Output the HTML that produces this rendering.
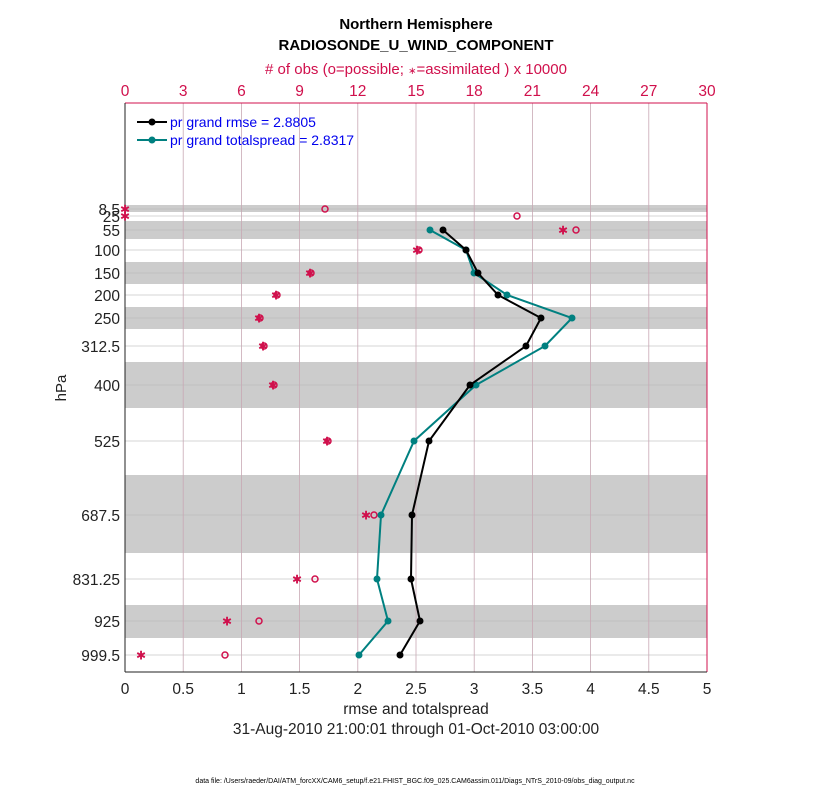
<!DOCTYPE html>
<html><head><meta charset="utf-8"><style>
body{margin:0;background:#fff;}
svg{display:block;font-family:"Liberation Sans",sans-serif;}
</style></head><body>
<svg width="830" height="800" xmlns="http://www.w3.org/2000/svg">
<rect width="830" height="800" fill="#fff"/>
<g fill="#cccccc">
<rect x="125" y="205" width="582" height="7"/>
<rect x="125" y="221" width="582" height="18"/>
<rect x="125" y="262" width="582" height="22"/>
<rect x="125" y="307" width="582" height="22"/>
<rect x="125" y="362" width="582" height="46"/>
<rect x="125" y="475" width="582" height="78"/>
<rect x="125" y="605" width="582" height="33"/>
</g>
<g stroke="#b8b8b8" stroke-width="0.8" opacity="0.8">
<line x1="125" x2="707" y1="209" y2="209"/><line x1="125" x2="707" y1="216" y2="216"/>
<line x1="125" x2="707" y1="230" y2="230"/><line x1="125" x2="707" y1="250" y2="250"/>
<line x1="125" x2="707" y1="273" y2="273"/><line x1="125" x2="707" y1="295" y2="295"/>
<line x1="125" x2="707" y1="318" y2="318"/><line x1="125" x2="707" y1="346" y2="346"/>
<line x1="125" x2="707" y1="385" y2="385"/><line x1="125" x2="707" y1="441" y2="441"/>
<line x1="125" x2="707" y1="515" y2="515"/><line x1="125" x2="707" y1="579" y2="579"/>
<line x1="125" x2="707" y1="621" y2="621"/><line x1="125" x2="707" y1="655" y2="655"/>
</g>
<g stroke="#c8a8b4" stroke-width="0.8">
<line x1="183.2" x2="183.2" y1="103" y2="672"/><line x1="241.4" x2="241.4" y1="103" y2="672"/>
<line x1="299.6" x2="299.6" y1="103" y2="672"/><line x1="357.8" x2="357.8" y1="103" y2="672"/>
<line x1="416" x2="416" y1="103" y2="672"/><line x1="474.2" x2="474.2" y1="103" y2="672"/>
<line x1="532.4" x2="532.4" y1="103" y2="672"/><line x1="590.6" x2="590.6" y1="103" y2="672"/>
<line x1="648.8" x2="648.8" y1="103" y2="672"/>
</g>
<line x1="125" x2="707" y1="103" y2="103" stroke="#d0104c" stroke-width="1"/>
<line x1="707" x2="707" y1="103" y2="672" stroke="#d0104c" stroke-width="1"/>
<line x1="125" x2="707" y1="672" y2="672" stroke="#222" stroke-width="1"/>
<line x1="125" x2="125" y1="103" y2="672" stroke="#222" stroke-width="1"/>
<g fill="#d0104c" font-size="15.5" text-anchor="middle">
<text x="125" y="96">0</text><text x="183.2" y="96">3</text><text x="241.4" y="96">6</text>
<text x="299.6" y="96">9</text><text x="357.8" y="96">12</text><text x="416" y="96">15</text>
<text x="474.2" y="96">18</text><text x="532.4" y="96">21</text><text x="590.6" y="96">24</text>
<text x="648.8" y="96">27</text><text x="707" y="96">30</text>
<text x="416" y="74" font-size="15"># of obs (o=possible; <tspan font-size="10">∗</tspan>=assimilated ) x 10000</text>
</g>
<g font-size="15" font-weight="bold" text-anchor="middle" fill="#000">
<text x="416" y="29">Northern Hemisphere</text>
<text x="416" y="50">RADIOSONDE_U_WIND_COMPONENT</text>
</g>
<g fill="#222" font-size="15.5" text-anchor="middle">
<text x="125" y="694">0</text><text x="183.2" y="694">0.5</text><text x="241.4" y="694">1</text>
<text x="299.6" y="694">1.5</text><text x="357.8" y="694">2</text><text x="416" y="694">2.5</text>
<text x="474.2" y="694">3</text><text x="532.4" y="694">3.5</text><text x="590.6" y="694">4</text>
<text x="648.8" y="694">4.5</text><text x="707" y="694">5</text>
<text x="416" y="714">rmse and totalspread</text>
<text x="416" y="734">31-Aug-2010 21:00:01 through 01-Oct-2010 03:00:00</text>
</g>
<g fill="#222" font-size="15.5" text-anchor="end">
<text x="120" y="215">8.5</text><text x="120" y="222">25</text><text x="120" y="236">55</text>
<text x="120" y="256">100</text><text x="120" y="279">150</text><text x="120" y="301">200</text>
<text x="120" y="324">250</text><text x="120" y="352">312.5</text><text x="120" y="391">400</text>
<text x="120" y="447">525</text><text x="120" y="521">687.5</text><text x="120" y="585">831.25</text>
<text x="120" y="627">925</text><text x="120" y="661">999.5</text>
</g>
<text x="66" y="388" font-size="15" fill="#222" text-anchor="middle" transform="rotate(-90 66 388)">hPa</text>
<text x="415" y="783" font-size="7" fill="#000" text-anchor="middle">data file: /Users/raeder/DAI/ATM_forcXX/CAM6_setup/f.e21.FHIST_BGC.f09_025.CAM6assim.011/Diags_NTrS_2010-09/obs_diag_output.nc</text>
<g fill="none" stroke="#d0104c" stroke-width="1.5">
<circle cx="325" cy="209" r="3"/><circle cx="517" cy="216" r="3"/><circle cx="576" cy="230" r="3"/>
<circle cx="419" cy="250" r="3"/><circle cx="311" cy="273" r="3"/><circle cx="277" cy="295" r="3"/>
<circle cx="260" cy="318" r="3"/><circle cx="264" cy="346" r="3"/><circle cx="274" cy="385" r="3"/>
<circle cx="328" cy="441" r="3"/><circle cx="374" cy="515" r="3"/><circle cx="315" cy="579" r="3"/>
<circle cx="259" cy="621" r="3"/><circle cx="225" cy="655" r="3"/>
</g>
<g fill="#d0104c" font-size="12" text-anchor="middle">
<text x="125" y="213.5">✱</text><text x="125" y="220.5">✱</text><text x="563" y="234.5">✱</text>
<text x="417" y="254.5">✱</text><text x="310" y="277.5">✱</text><text x="276" y="299.5">✱</text>
<text x="259" y="322.5">✱</text><text x="263" y="350.5">✱</text><text x="273" y="389.5">✱</text>
<text x="327" y="445.5">✱</text><text x="366" y="519.5">✱</text><text x="297" y="583.5">✱</text>
<text x="227" y="625.5">✱</text><text x="141" y="659.5">✱</text>
</g>
<polyline fill="none" stroke="#008080" stroke-width="2" points="430,230 466,250 474,273 507,295 572,318 545,346 476,385 414,441 381,515 377,579 388,621 359,655"/>
<g fill="#008080">
<circle cx="430" cy="230" r="3.5"/><circle cx="466" cy="250" r="3.5"/><circle cx="474" cy="273" r="3.5"/><circle cx="507" cy="295" r="3.5"/><circle cx="572" cy="318" r="3.5"/><circle cx="545" cy="346" r="3.5"/><circle cx="476" cy="385" r="3.5"/><circle cx="414" cy="441" r="3.5"/><circle cx="381" cy="515" r="3.5"/><circle cx="377" cy="579" r="3.5"/><circle cx="388" cy="621" r="3.5"/><circle cx="359" cy="655" r="3.5"/>
</g>
<polyline fill="none" stroke="#000" stroke-width="2" points="443,230 466,250 478,273 498,295 541,318 526,346 470,385 429,441 412,515 411,579 420,621 400,655"/>
<g fill="#000">
<circle cx="443" cy="230" r="3.5"/><circle cx="466" cy="250" r="3.5"/><circle cx="478" cy="273" r="3.5"/><circle cx="498" cy="295" r="3.5"/><circle cx="541" cy="318" r="3.5"/><circle cx="526" cy="346" r="3.5"/><circle cx="470" cy="385" r="3.5"/><circle cx="429" cy="441" r="3.5"/><circle cx="412" cy="515" r="3.5"/><circle cx="411" cy="579" r="3.5"/><circle cx="420" cy="621" r="3.5"/><circle cx="400" cy="655" r="3.5"/>
</g>
<line x1="137" x2="167" y1="122" y2="122" stroke="#000" stroke-width="2"/><circle cx="152" cy="122" r="3.5" fill="#000"/>
<line x1="137" x2="167" y1="140" y2="140" stroke="#008080" stroke-width="2"/><circle cx="152" cy="140" r="3.5" fill="#008080"/>
<text x="170" y="127" font-size="14" fill="#0000ee">pr grand rmse = 2.8805</text>
<text x="170" y="145" font-size="14" fill="#0000ee">pr grand totalspread = 2.8317</text>
</svg>
</body></html>
